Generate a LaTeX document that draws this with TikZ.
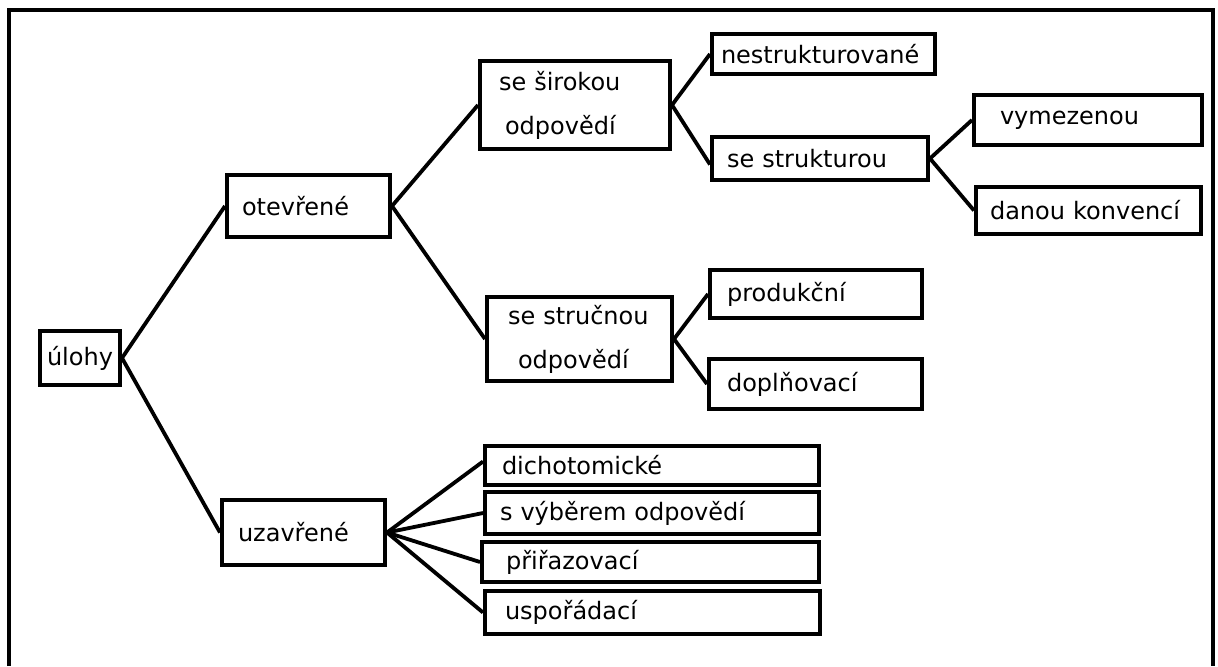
\documentclass[tikz,border=0pt]{standalone}
\usepackage{fontspec}
\setmainfont{DejaVu Sans}
\begin{document}
\begin{tikzpicture}[x=0.5pt, y=-0.5pt,
  box/.style={draw, line width=2pt, anchor=north west, align=left,
    inner ysep=0pt, font=\fontsize{12pt}{22pt}\selectfont},
  link/.style={line width=1.9pt}]
\useasboundingbox (0,0) rectangle (1218,666);
\draw [line width=2pt] (9,666) -- (9,10) -- (1213,10) -- (1213,666);
\path (38,329)  node[box, inner xsep=3.5pt, text width=33pt,  minimum height=27pt]   (ulohy)      {úlohy};
\path (225,173) node[box, inner xsep=7.5pt, text width=66.5pt, minimum height=31pt]  (otevrene)   {otevřené};
\path (220,498) node[box, inner xsep=8pt,   text width=65.5pt, minimum height=32.5pt](uzavrene)   {uzavřené};
\path (478,59)  node[box, inner xsep=9.5pt, text width=76pt,   minimum height=44pt]  (siroka)     {se širokou\\\hspace*{3pt}odpovědí};
\path (485,295) node[box, inner xsep=10.5pt,text width=71.5pt, minimum height=42pt]  (strucna)    {se stručnou\\\hspace*{5pt}odpovědí};
\path (710,32)  node[box, inner xsep=4.5pt, text width=102.5pt,minimum height=20pt]  (nestrukt)   {nestrukturované};
\path (710,135) node[box, inner xsep=7.5pt, text width=93pt,   minimum height=21.5pt](struktura)  {se strukturou};
\path (972,93)  node[box, inner xsep=13pt,  text width=88pt,   minimum height=25pt]  (vymezenou)  {vymezenou};
\path (974,185) node[box, inner xsep=7pt,   text width=98.5pt, minimum height=23.5pt](konvenci)   {danou konvencí};
\path (708,268) node[box, inner xsep=8.5pt, text width=89pt,   minimum height=24pt]  (produkcni)  {produkční};
\path (707,357) node[box, inner xsep=9pt,   text width=88.5pt, minimum height=25pt]  (doplnovaci) {doplňovací};
\path (483,444) node[box, inner xsep=8.5pt, text width=150pt,  minimum height=19.5pt](dicho)      {dichotomické};
\path (483,490) node[box, inner xsep=7.5pt, text width=152pt,  minimum height=21pt]  (vyber)      {s výběrem odpovědí};
\path (480,540) node[box, inner xsep=12pt,  text width=144.5pt,minimum height=20pt]  (prirazeni)  {přiřazovací};
\path (483,589) node[box, inner xsep=10pt,  text width=147.5pt,minimum height=21.5pt](poradi)     {uspořádací};
\draw [link] (ulohy.east) -- (otevrene.west);
\draw [link] (ulohy.east) -- (uzavrene.west);
\draw [link] (otevrene.east) -- (siroka.west);
\draw [link] (otevrene.east) -- (strucna.west);
\draw [link] (siroka.east) -- (nestrukt.west);
\draw [link] (siroka.east) -- ([yshift=-3pt]struktura.west);
\draw [link] (struktura.east) -- (vymezenou.west);
\draw [link] (struktura.east) -- (konvenci.west);
\draw [link] (strucna.east) -- (produkcni.west);
\draw [link] (strucna.east) -- (doplnovaci.west);
\draw [link] (uzavrene.east) -- ([yshift=2pt]dicho.west);
\draw [link] (uzavrene.east) -- (vyber.west);
\draw [link] (uzavrene.east) -- (prirazeni.west);
\draw [link] (uzavrene.east) -- (poradi.west);
\end{tikzpicture}
\end{document}
